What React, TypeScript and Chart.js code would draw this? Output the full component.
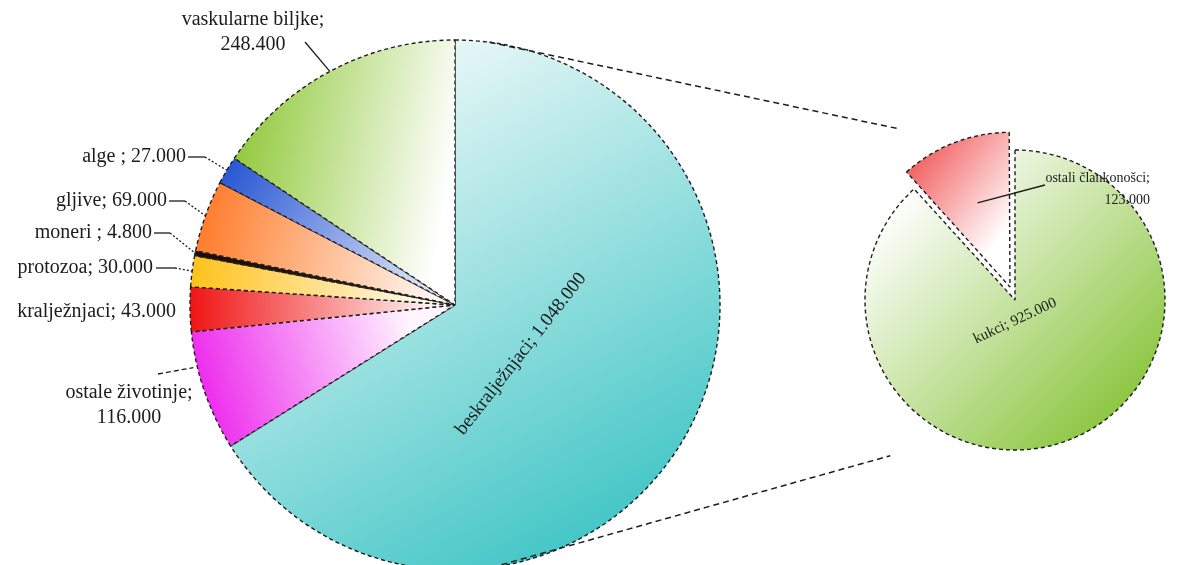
import React, { useEffect, useRef } from "react";
import { Chart, registerables } from "chart.js";

Chart.register(...registerables);

// ---------------- data ----------------
const mainCategories = [
  "beskralježnjaci",
  "ostale životinje",
  "kralježnjaci",
  "protozoa",
  "moneri",
  "gljive",
  "alge",
  "vaskularne biljke",
];
const mainValues = [1048000, 116000, 43000, 30000, 4800, 69000, 27000, 248400];
const mainLabelText: string[][] = [
  ["beskralježnjaci; 1.048.000"],
  ["ostale životinje;", "116.000"],
  ["kralježnjaci; 43.000"],
  ["protozoa; 30.000"],
  ["moneri ; 4.800"],
  ["gljive; 69.000"],
  ["alge ; 27.000"],
  ["vaskularne biljke;", "248.400"],
];

const subCategories = ["kukci", "ostali člankonošci"];
const subValues = [925000, 123000];
const subLabelText: string[][] = [["kukci; 925.000"], ["ostali člankonošci;", "123.000"]];

// ---------------- styles / layout ----------------
type Grad = { from: [number, number]; to: [number, number]; c0: string; c1: string };
const mainGradients: Grad[] = [
  { from: [-0.25, -0.95], to: [0.75, 0.85], c0: "#eef9f9", c1: "#3cc4c4" },
  { from: [-1, 0.4], to: [-0.15, 0.15], c0: "#ec1cec", c1: "#fff4ff" },
  { from: [-1, 0.05], to: [-0.1, 0], c0: "#f01414", c1: "#fff0f0" },
  { from: [-1, 0], to: [-0.1, 0], c0: "#ffc21a", c1: "#fffaf0" },
  { from: [-1, 0], to: [0, 0], c0: "#1c0c04", c1: "#3a2010" },
  { from: [-1, -0.2], to: [-0.1, 0], c0: "#ff7a28", c1: "#fff6f0" },
  { from: [-0.85, -0.5], to: [-0.05, 0], c0: "#2c5ad4", c1: "#eef2fc" },
  { from: [-0.85, -0.45], to: [-0.05, -0.3], c0: "#92ca3e", c1: "#ffffff" },
];
const subGradients: Grad[] = [
  { from: [-0.75, -0.7], to: [0.75, 0.8], c0: "#ffffff", c1: "#88c43a" },
  { from: [-0.7, -0.85], to: [-0.05, -0.35], c0: "#f25656", c1: "#ffffff" },
];
const subOffsets = [0, 56];

type LabelLayout = {
  x: number;
  y: number;
  align: CanvasTextAlign;
  size: number;
  rot?: number;
  lineGap?: number;
  dash?: [number, number];
  leaderFrom?: [number, number];
  leaderDash?: number[];
  anchorFrac?: number;
  anchorPad?: number;
  anchorRadFrac?: number;
};

const mainLabelLayout: LabelLayout[] = [
  { x: 521, y: 354, align: "center", rot: -52, size: 19 },
  { x: 129, y: 393, align: "center", size: 20, lineGap: 25, leaderFrom: [158, 374], leaderDash: [5, 3], anchorFrac: 0.71, anchorPad: 4 },
  { x: 176, y: 312, align: "right", size: 20 },
  { x: 153, y: 268, align: "right", size: 20, dash: [156, 175], leaderDash: [2, 2] },
  { x: 152, y: 233, align: "right", size: 20, dash: [154, 170], leaderDash: [2, 2] },
  { x: 167, y: 201, align: "right", size: 20, dash: [169, 185], leaderDash: [2, 2] },
  { x: 186, y: 157, align: "right", size: 20, dash: [188, 205], leaderDash: [2, 2] },
  { x: 253, y: 20, align: "center", size: 20, lineGap: 25, leaderFrom: [305, 42] },
];
const subLabelLayout: LabelLayout[] = [
  { x: 1015, y: 321, align: "center", rot: -25, size: 15 },
  { x: 1150, y: 178, align: "right", size: 14, lineGap: 22, leaderFrom: [1045, 185], anchorFrac: 0.5, anchorRadFrac: 0.6 },
];

// connector lines: [angle on main pie (deg, clockwise from top), angle on sub pie, distance factor on sub pie]
const connectors: [number, number, number][] = [
  [7.5, 325.8, 1.38],
  [172, 218.7, 1.33],
];

const FONT = '"Liberation Serif", "Times New Roman", serif';
const MAIN_R = 265;
const SUB_R = 150;

function gradientFor(list: Grad[]) {
  return (c: any) => {
    const chart = c.chart;
    const g = list[c.dataIndex];
    const ca = chart.chartArea;
    if (!ca) return g.c0;
    const cx = (ca.left + ca.right) / 2;
    const cy = (ca.top + ca.bottom) / 2;
    const R = chart.options.radius as number;
    const grad = chart.ctx.createLinearGradient(
      cx + g.from[0] * R,
      cy + g.from[1] * R,
      cx + g.to[0] * R,
      cy + g.to[1] * R
    );
    grad.addColorStop(0, g.c0);
    grad.addColorStop(1, g.c1);
    return grad;
  };
}

function makeLabelPlugin(id: string, texts: string[][], layouts: LabelLayout[]) {
  return {
    id,
    afterDatasetsDraw(chart: any) {
      const ctx: CanvasRenderingContext2D = chart.ctx;
      const meta = chart.getDatasetMeta(0);
      layouts.forEach((L, i) => {
        const arc = meta.data[i];
        const lines = texts[i];
        ctx.save();
        ctx.fillStyle = "#1c1c1c";
        ctx.font = `${L.size}px ${FONT}`;
        ctx.textAlign = L.align;
        ctx.textBaseline = "middle";
        if (L.rot !== undefined) {
          ctx.translate(L.x, L.y);
          ctx.rotate((L.rot * Math.PI) / 180);
          ctx.fillText(lines[0], 0, 0);
        } else {
          lines.forEach((t, k) => ctx.fillText(t, L.x, L.y + k * (L.lineGap || 0)));
        }
        ctx.restore();

        if (L.dash || L.leaderFrom) {
          const p = arc.getProps(["x", "y", "startAngle", "endAngle", "outerRadius"], true);
          const frac = L.anchorFrac ?? 0.5;
          const a = p.startAngle + (p.endAngle - p.startAngle) * frac;
          const half = (p.startAngle + p.endAngle) / 2;
          const off = (arc.options.offset || 0) / 4;
          const ox = p.x + Math.cos(half) * off;
          const oy = p.y + Math.sin(half) * off;
          const rr = p.outerRadius * (L.anchorRadFrac ?? 1) + (L.anchorPad ?? 0);
          const ax = ox + Math.cos(a) * rr;
          const ay = oy + Math.sin(a) * rr;
          ctx.save();
          ctx.strokeStyle = "#1c1c1c";
          ctx.lineWidth = 1.3;
          let sx: number, sy: number;
          if (L.dash) {
            ctx.beginPath();
            ctx.moveTo(L.dash[0], L.y);
            ctx.lineTo(L.dash[1], L.y);
            ctx.stroke();
            sx = L.dash[1];
            sy = L.y;
          } else {
            sx = L.leaderFrom![0];
            sy = L.leaderFrom![1];
          }
          ctx.setLineDash(L.leaderDash || []);
          ctx.beginPath();
          ctx.moveTo(sx, sy);
          ctx.lineTo(ax, ay);
          ctx.stroke();
          ctx.restore();
        }
      });
    },
  };
}

export default function App() {
  const mainRef = useRef<HTMLCanvasElement>(null);
  const subRef = useRef<HTMLCanvasElement>(null);

  useEffect(() => {
    const common = {
      animation: false as const,
      responsive: false,
      events: [] as any[],
      plugins: { legend: { display: false }, tooltip: { enabled: false } },
    };

    const main = new Chart(mainRef.current!, {
      type: "pie",
      data: {
        labels: mainCategories,
        datasets: [
          {
            data: mainValues,
            backgroundColor: gradientFor(mainGradients) as any,
            borderColor: "#1e1e1e",
            borderWidth: 1.4,
            borderDash: [4, 3],
            clip: false as any,
          } as any,
        ],
      },
      options: {
        ...common,
        radius: MAIN_R,
        layout: { padding: { left: 0, right: 280, top: 45, bottom: 0 } },
      } as any,
      plugins: [makeLabelPlugin("mainLabels", mainLabelText, mainLabelLayout)],
    });

    const connectorPlugin = {
      id: "connectors",
      afterDatasetsDraw(chart: any) {
        const ctx: CanvasRenderingContext2D = chart.ctx;
        const mArc: any = main.getDatasetMeta(0).data[0];
        const sArc: any = chart.getDatasetMeta(0).data[0];
        if (!mArc || !sArc) return;
        ctx.save();
        ctx.strokeStyle = "#1e1e1e";
        ctx.lineWidth = 1.5;
        ctx.setLineDash([6, 4]);
        connectors.forEach(([am, as, df]) => {
          const ra = (am * Math.PI) / 180;
          const rb = (as * Math.PI) / 180;
          const x0 = mArc.x + Math.sin(ra) * mArc.outerRadius;
          const y0 = mArc.y - Math.cos(ra) * mArc.outerRadius;
          const x1 = sArc.x + Math.sin(rb) * sArc.outerRadius * df;
          const y1 = sArc.y - Math.cos(rb) * sArc.outerRadius * df;
          ctx.beginPath();
          ctx.moveTo(x0, y0);
          ctx.lineTo(x1, y1);
          ctx.stroke();
        });
        ctx.restore();
      },
    };

    const sub = new Chart(subRef.current!, {
      type: "pie",
      data: {
        labels: subCategories,
        datasets: [
          {
            data: subValues,
            backgroundColor: gradientFor(subGradients) as any,
            borderColor: "#1e1e1e",
            borderWidth: 1.4,
            borderDash: [4, 3],
            offset: subOffsets,
            clip: false as any,
          } as any,
        ],
      },
      options: {
        ...common,
        radius: SUB_R,
        layout: { padding: { left: 840, right: 0, top: 35, bottom: 0 } },
      } as any,
      plugins: [connectorPlugin, makeLabelPlugin("subLabels", subLabelText, subLabelLayout)],
    });

    return () => {
      sub.destroy();
      main.destroy();
    };
  }, []);

  const canvasStyle: React.CSSProperties = {
    position: "absolute",
    left: 0,
    top: 0,
    width: 1190,
    height: 565,
  };

  return (
    <div
      style={{
        position: "absolute",
        left: 0,
        top: 0,
        width: 1190,
        height: 565,
        overflow: "hidden",
        background: "#ffffff",
      }}
    >
      <canvas ref={mainRef} width={1190} height={565} style={canvasStyle} />
      <canvas ref={subRef} width={1190} height={565} style={{ ...canvasStyle, pointerEvents: "none" }} />
    </div>
  );
}
